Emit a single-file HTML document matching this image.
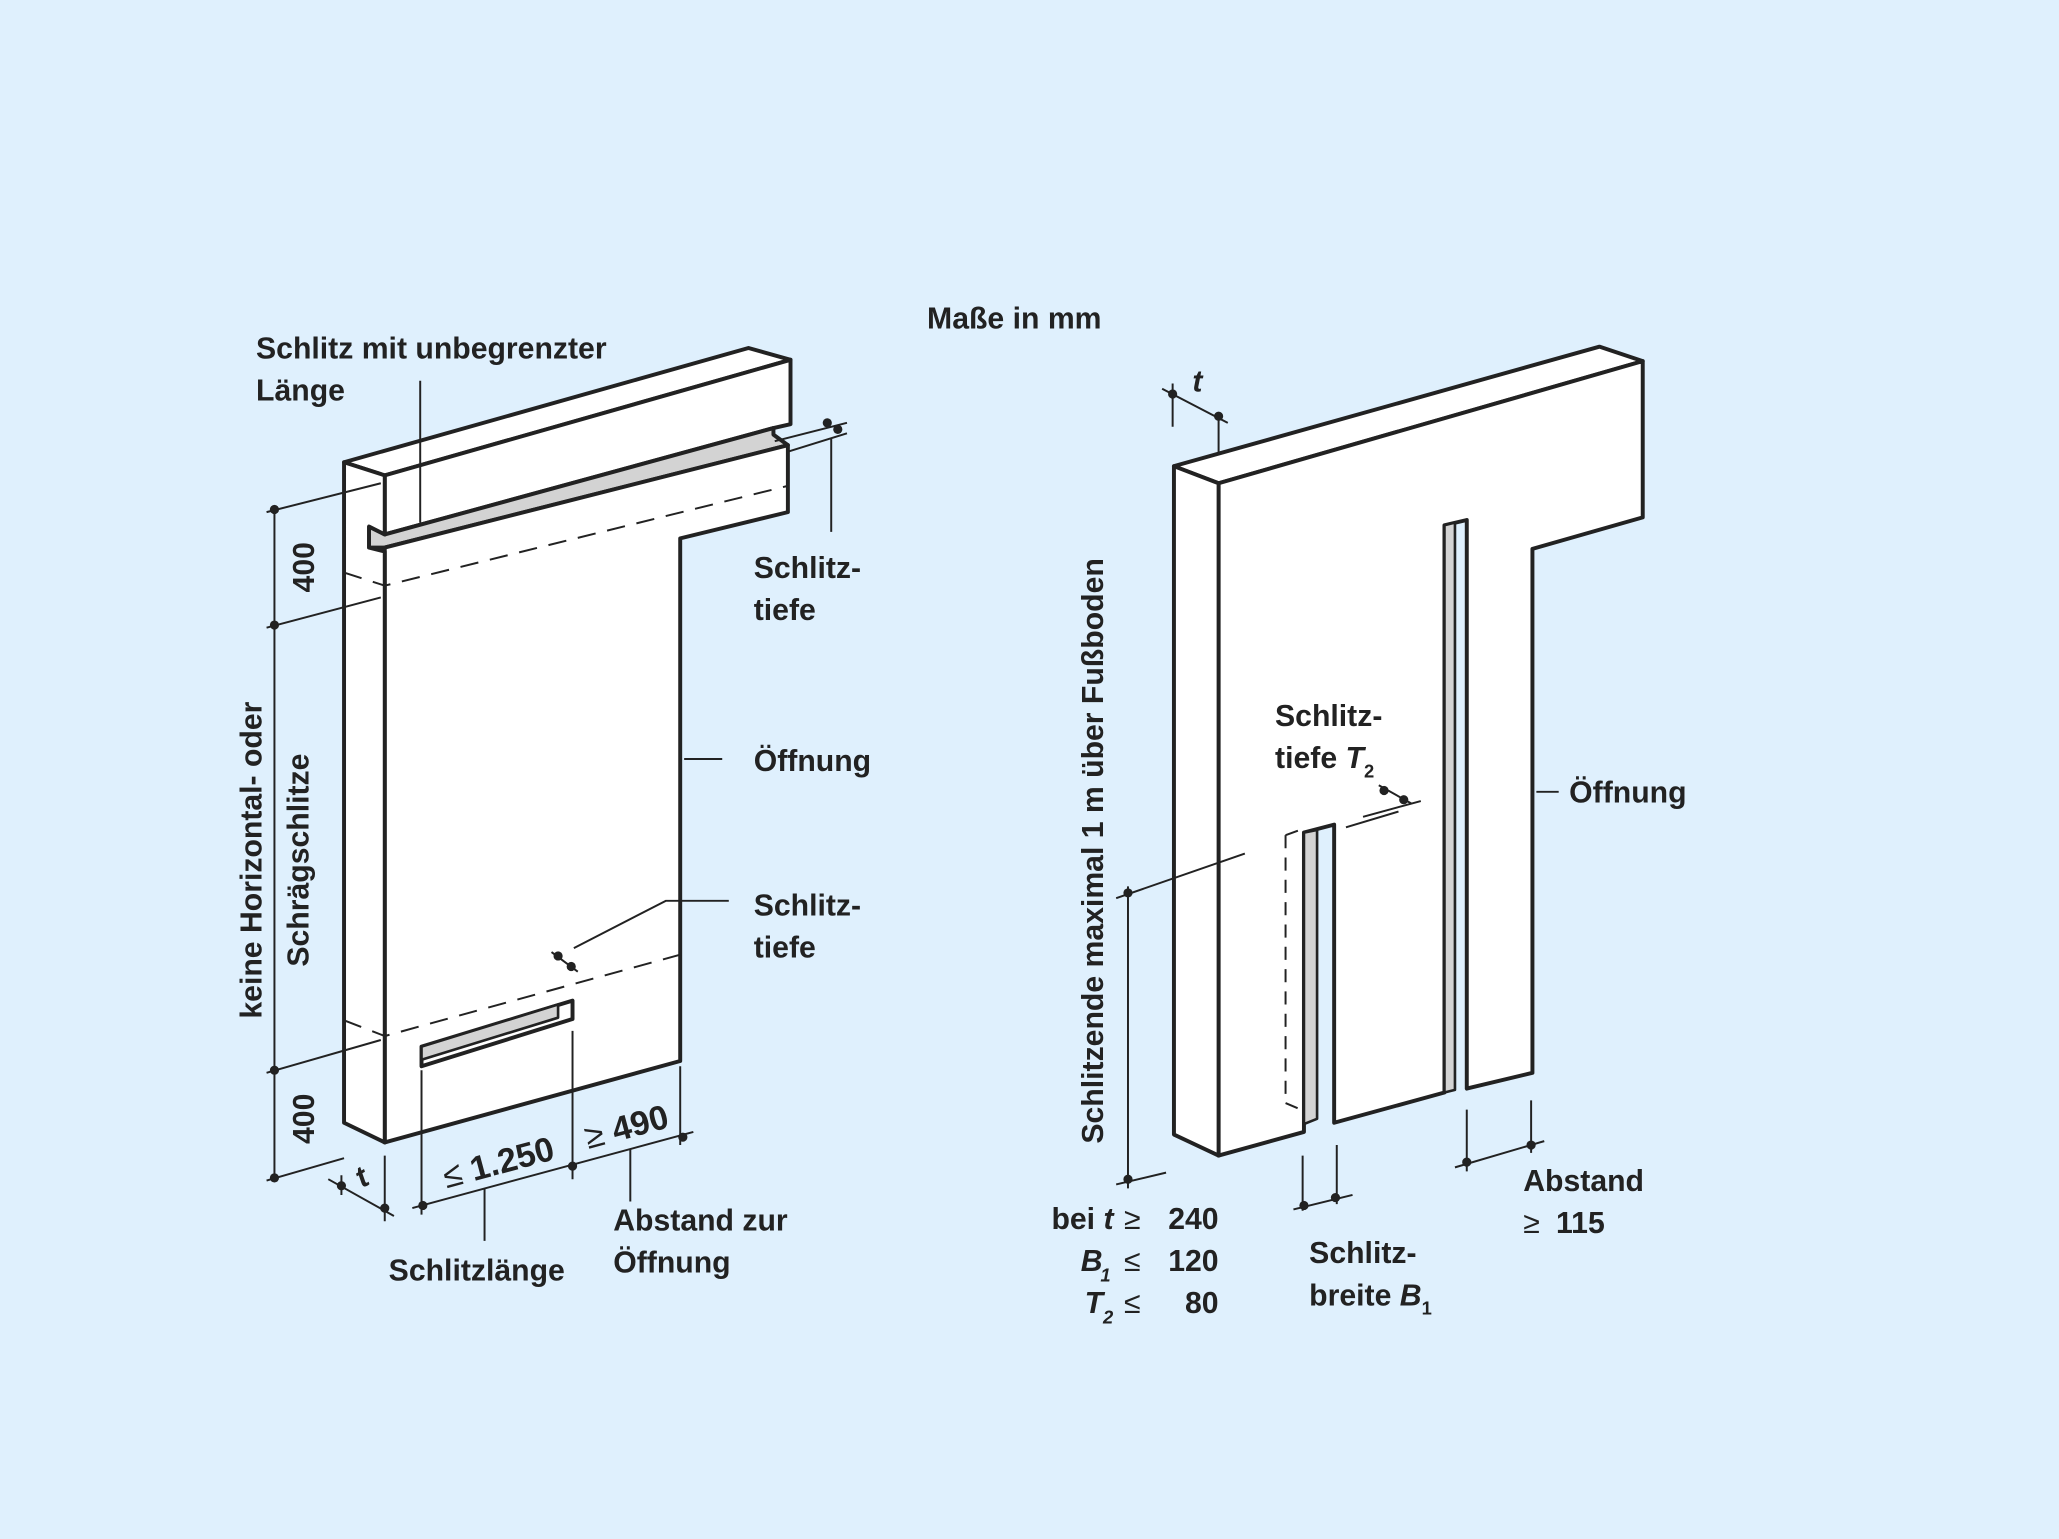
<!DOCTYPE html>
<html><head><meta charset="utf-8"><style>
html,body{margin:0;padding:0;background:#dff0fd;}
svg{display:block}
text{font-family:"Liberation Sans",sans-serif;font-weight:bold;font-size:23px;fill:#222}
</style></head><body>
<svg width="2059" height="1539" viewBox="0 0 1568 1172" xmlns="http://www.w3.org/2000/svg">
<rect width="1568" height="1172" fill="#dff0fd"/>
<g stroke="#222" stroke-width="3" stroke-linejoin="round" fill="#fff">
<polygon points="262,352 570,265 602,274 293,362"/>
<polygon points="293,362 602,274 602,323 589,326 293,407"/>
<polygon points="281,401 293,407 589,326 589,331 600,339 293,417 281,417" fill="#d3d3d3"/>
<polygon points="293,417 600,339 600,390 518,410 518,808 293,870"/>
<polygon points="262,352 293,362 293,407 281,401 281,417 293,420 293,870 262,855"/>
<polygon points="321,797 436,762 436,776 321,812"/>
<polygon points="321,797 425,765 425,775 321,807" fill="#d3d3d3" stroke-width="2"/>
<polygon points="894,355 1218,264 1251,275 928,368"/>
<polygon points="928,368 1251,275 1251,394 1167,418 1167,817 1117,829 1117,396 1100,400 1100,832 1016,855 1016,628 993,634 993,862 928,880"/>
<polygon points="894,355 928,368 928,880 894,864"/>
<polygon points="1100,400 1108,398 1108,830 1100,832" fill="#d3d3d3" stroke-width="2"/>
<polygon points="993,634 1003,632 1003,852 993,856" fill="#d3d3d3" stroke-width="2"/>
</g>
<g stroke="#222" stroke-width="1.5" fill="none">
<path d="M262,436 L293,446 L600,370" stroke-dasharray="14,9"/>
<path d="M262,777 L293,789 L518,727" stroke-dasharray="14,9"/>
<path d="M979,636 V840 M979,636 L990,632 M979,840 L993,846" stroke-dasharray="10,7"/>
<path d="M209,385 V900 M203,390 L290,368 M203,478 L290,455 M203,817 L290,792 M203,899 L262,882"/>
<path d="M250,898 L300,926 M260,895 V910 M293,880 V930"/>
<path d="M314,920 L528,862 M321,815 V925 M436,785 V898 M518,812 V872"/>
<path d="M369,905 V945 M480,875 V915"/>
<path d="M320,290 V398"/>
<path d="M590,336 L645,322 M600,344 L645,330 M633,334 V405"/>
<path d="M521,578 H550"/>
<path d="M437,722 L507,686 H555 M420,725 L440,740"/>
<path d="M885,296 L935,322 M893,292 V325 M928,317 V345"/>
<path d="M1038,622 L1082,610 M1025,630 L1065,618 M1050,598 L1075,612"/>
<path d="M1170,603 H1187"/>
<path d="M859,675 V905 M850,684 L948,650 M850,902 L888,893"/>
<path d="M992,880 V922 M1018,872 V917 M985,921 L1030,910"/>
<path d="M1117,845 V892 M1166,838 V878 M1108,889 L1176,869"/>
</g>
<g fill="#222">
<circle cx="209" cy="388" r="3.5"/><circle cx="209" cy="476" r="3.5"/><circle cx="209" cy="815" r="3.5"/><circle cx="209" cy="897" r="3.5"/>
<circle cx="260" cy="903" r="3.5"/><circle cx="293" cy="920" r="3.5"/>
<circle cx="322" cy="918" r="3.5"/><circle cx="436" cy="888" r="3.5"/><circle cx="520" cy="866" r="3.5"/>
<circle cx="630" cy="322" r="3.5"/><circle cx="638" cy="327" r="3.5"/>
<circle cx="425" cy="728" r="3.5"/><circle cx="435" cy="736" r="3.5"/>
<circle cx="893" cy="300" r="3.5"/><circle cx="928" cy="317" r="3.5"/>
<circle cx="1054" cy="602" r="3.5"/><circle cx="1069" cy="609" r="3.5"/>
<circle cx="859" cy="680" r="3.5"/><circle cx="859" cy="898" r="3.5"/>
<circle cx="993" cy="918" r="3.5"/><circle cx="1017" cy="912" r="3.5"/>
<circle cx="1117" cy="885" r="3.5"/><circle cx="1166" cy="872" r="3.5"/>
</g>
<text x="706" y="250">Maße in mm</text>
<text x="195" y="273">Schlitz mit unbegrenzter</text>
<text x="195" y="305">Länge</text>
<text x="574" y="440">Schlitz-</text><text x="574" y="472">tiefe</text>
<text x="574" y="587">Öffnung</text>
<text x="574" y="697">Schlitz-</text><text x="574" y="729">tiefe</text>
<text transform="translate(239,432) rotate(-90)" text-anchor="middle">400</text>
<text transform="translate(239,852) rotate(-90)" text-anchor="middle">400</text>
<text transform="translate(199,655) rotate(-90)" text-anchor="middle">keine Horizontal- oder</text>
<text transform="translate(235,655) rotate(-90)" text-anchor="middle">Schrägschlitze</text>
<text transform="translate(276,905) rotate(-30)" style="font-style:italic">t</text>
<text transform="translate(340,905) rotate(-15)" style="font-size:26px"><tspan style="font-weight:normal">≤</tspan> 1.250</text>
<text transform="translate(448,875) rotate(-15)" style="font-size:26px"><tspan style="font-weight:normal">≥</tspan> 490</text>
<text x="296" y="975">Schlitzlänge</text>
<text x="467" y="937">Abstand zur</text><text x="467" y="969">Öffnung</text>
<text x="908" y="298" style="font-style:italic">t</text>
<text x="971" y="553">Schlitz-</text>
<text x="971" y="585">tiefe <tspan style="font-style:italic">T</tspan><tspan style="font-size:14px" dy="7">2</tspan></text>
<text x="1195" y="611">Öffnung</text>
<text transform="translate(840,648) rotate(-90)" text-anchor="middle">Schlitzende maximal 1 m über Fußboden</text>
<text x="848" y="936" text-anchor="end">bei <tspan style="font-style:italic">t</tspan></text>
<text x="823" y="968" style="font-style:italic">B</text><text x="838" y="976" style="font-size:14px;font-style:italic">1</text>
<text x="826" y="1000" style="font-style:italic">T</text><text x="840" y="1008" style="font-size:14px;font-style:italic">2</text>
<text x="856" y="936" style="font-weight:normal">≥</text>
<text x="856" y="968" style="font-weight:normal">≤</text>
<text x="856" y="1000" style="font-weight:normal">≤</text>
<text x="928" y="936" text-anchor="end">240</text>
<text x="928" y="968" text-anchor="end">120</text>
<text x="928" y="1000" text-anchor="end">80</text>
<text x="997" y="962">Schlitz-</text>
<text x="997" y="994">breite <tspan style="font-style:italic">B</tspan><tspan style="font-size:14px" dy="7">1</tspan></text>
<text x="1160" y="907">Abstand</text>
<text x="1160" y="939"><tspan style="font-weight:normal">≥</tspan><tspan x="1185">115</tspan></text>
</svg>
</body></html>
